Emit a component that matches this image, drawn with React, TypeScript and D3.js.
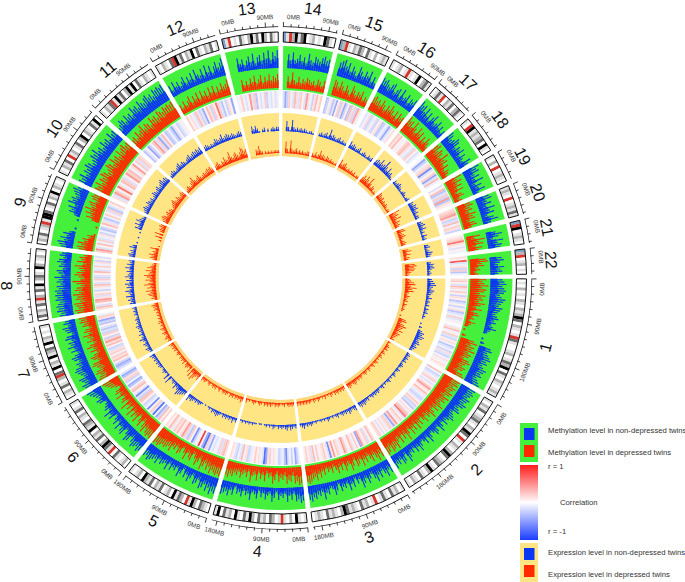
import React from 'react';
import * as d3 from 'd3';

const chromosomes = ['1','2','3','4','5','6','7','8','9','10','11','12','13','14','15','16','17','18','19','20','21','22'];
const lengthsMb = [249,243,198,191,181,171,159,146,141,136,135,134,115,107,103,90.4,81,78,59,63,48,51];

// 0-9 readings per chromosome, clockwise from 0MB, 0 = no bar
const methylNonDepressed = [
  [6,7,8,6,7,8,7,5,6,8,7,6,5,7,6,5,4,5,6,4,5,3,4,6,3,2,0,0,1,0,2,0,6,7,5,6,7,8,6,7,5,6,8,7,6,7,5,6,7,8],
  [8,7,8,7,6,8,7,6,8,7,5,6,7,4,5,6,7,5,4,6,3,5,7,3,5,6,4,3,5,7,3,6,4,3,5,7,4,6,3,5,4,6,8,3,6,7,4,6,5,7],
  [7,5,8,6,4,7,5,8,6,3,5,7,4,6,8,3,5,2,6,4,7,3,5,4,6,2,5,7,4,3,6,5,8,4,6,5,7,6,8,7],
  [7,8,6,7,3,6,4,7,3,5,4,6,2,5,7,3,4,6,3,5,2,6,4,3,7,4,5,3,6,4,5,2,6,4,7,5,6,7],
  [8,7,9,6,8,5,7,8,4,6,7,3,5,7,4,6,2,5,7,3,5,4,6,3,7,4,5,6,4,7,5,6,7,8,6,7],
  [7,8,6,7,8,6,4,7,8,5,3,7,6,4,7,3,6,4,2,6,4,7,3,5,4,3,2,5,6,4,5,6,7,8],
  [7,8,6,7,8,5,6,7,8,7,5,6,4,6,7,5,3,6,4,7,5,6,4,7,6,3,5,6,7,4,6,5],
  [7,6,8,7,8,7,6,8,7,8,7,8,6,7,5,7,6,8,5,6,7,4,6,5,7,6,4,6,5],
  [6,7,8,5,7,4,6,3,0,1,0,0,0,1,0,3,6,5,7,4,8,6,7,5,6,7,8,6],
  [7,6,8,5,7,6,8,7,5,6,8,7,9,6,7,5,8,6,7,5,8,6,7],
  [5,6,8,7,5,8,6,7,5,9,7,8,6,9,7,6,8,9,7,8,6,9,8,9,8,9],
  [6,3,7,4,6,3,5,7,3,6,4,7,3,8,5,4,7,3,8,4,7,3,6,8,5,7,9],
  [0,0,0,0,7,4,6,3,5,7,4,8,3,6,7,4,8,5,9,4,8,6,9],
  [0,0,7,4,8,4,5,7,4,6,3,8,5,4,7,6,5,7,8,6,7],
  [0,0,7,8,9,6,8,4,7,5,3,8,6,4,7,5,8,3,6,3],
  [8,7,8,6,5,7,8,4,6,7,3,8,4,5,7,3,6,5,7],
  [9,7,8,5,8,4,7,3,6,8,4,5,7,4,6,3,5],
  [8,7,5,6,8,7,4,6,5,7,3,6,4,3,7,5],
  [9,7,8,5,7,4,8,3,6,4,7,3],
  [7,8,5,7,4,8,5,7,3,6,8,4],
  [0,0,5,8,6,3,8,5,7,6],
  [0,0,6,7,5,4,7,5,6,4]
];

const methylDepressed = [
  [8,6,7,9,6,8,7,5,8,6,7,5,8,6,4,7,3,5,6,3,4,2,5,3,2,0,1,0,0,2,0,7,9,6,8,7,9,6,8,7,5,8,9,7,6,8,7,5,8,9],
  [9,8,9,7,9,8,7,9,8,6,9,7,8,6,7,9,6,8,5,7,9,6,7,5,8,6,4,7,5,8,4,7,5,8,4,6,9,5,7,4,8,5,6,9,7,8,9,6,8,9],
  [8,6,9,7,5,8,6,4,7,5,8,4,6,7,3,6,8,4,5,7,3,6,4,7,5,3,6,4,5,3,6,4,7,5,8,6,7,8,9,8],
  [8,9,7,8,4,7,6,8,4,6,5,7,3,6,8,4,5,3,7,4,6,3,7,4,5,8,3,6,4,5,7,4,6,5,7,6,8,7],
  [9,8,9,8,7,9,6,8,5,7,9,4,6,8,5,3,7,6,4,8,5,3,6,7,4,6,5,8,6,7,8,7,8,9,8,9],
  [9,8,9,8,6,9,7,4,8,6,3,8,5,7,4,8,3,6,4,8,3,6,5,3,7,4,6,5,2,4,6,7,8,9],
  [9,8,7,9,8,6,7,9,8,5,7,8,6,4,7,5,8,6,4,7,5,6,8,5,7,6,4,7,6,8,7,8],
  [8,9,7,8,9,6,8,7,9,6,8,7,5,7,9,5,6,8,7,5,6,8,4,7,5,6,4],
  [7,8,6,8,5,6,3,4,1,0,0,0,1,0,0,4,7,5,8,6,9,6,7,8,5,7,8,7],
  [8,7,9,6,8,7,9,8,6,7,9,8,6,9,7,8,6,9,7,8,9,7,8],
  [6,7,5,8,6,7,9,6,8,7,5,9,7,8,6,9,8,7,9,8,9,8,9],
  [5,3,6,3,5,7,3,6,4,7,3,7,4,6,3,7,4,7,3,6,4,7,5,6,8],
  [0,0,0,0,6,3,5,3,6,4,7,3,5,7,3,6,4,7,4,6,5,7],
  [0,0,6,3,8,4,3,6,3,5,4,6,5,4,5,3,6,5,3,6],
  [0,0,8,7,5,8,6,4,7,5,3,8,6,4,6,5,7,3,5,4],
  [7,8,6,7,5,8,6,4,7,5,8,6,4,7,3,7,5,6],
  [9,7,8,5,9,6,4,8,5,7,3,6,4,7,5,3],
  [8,9,6,8,7,5,9,6,7,4,6,3,5,4,3],
  [9,6,8,5,7,4,7,3,5,6,3,4],
  [7,8,6,7,5,8,6,7,4,6,7,4],
  [0,0,7,4,9,6,8,4,7,5],
  [0,0,8,9,6,7,4,5,3,4]
];

// -9 (r = -1, blue) to 9 (r = 1, red)
const correlation = [
  [2,3,1,-2,4,2,-1,3,1,-3,2,1,-4,-2,1,-3,-1,2,-4,-2,-1,3,-2,-1,1,0,-1,2,4,-1,1,3,-2,-3,1,2,-1,-4,-2,-1,-3,2,-2,-3,-1,2,-1,1,2,1],
  [4,-1,-3,-2,-1,2,3,-1,-2,1,3,5,2,1,4,2,-1,-2,-3,-2,1,3,2,-3,-2,-4,1,2,-1,3,4,6,-2,1,3,2,-1,5,3,-5,-2,3,2,-1,2,1,-2,1,3,2],
  [2,4,1,-2,3,1,2,5,-5,1,3,-1,2,4,1,-1,3,5,2,-1,2,3,1,5,2,-6,-2,1,3,2,1,-1,3,1,4,-2,2,1,3,1],
  [-1,-3,-5,-1,-3,-1,-2,-6,-4,-1,-2,-3,-1,1,2,-1,3,2,-5,-7,-2,-1,2,1,3,1,-1,-2,-3,2,1,4,-2,-1,-3,-2,1,2],
  [2,4,3,-2,3,-1,-1,-2,-1,-5,-2,3,-7,-5,-1,8,1,-1,-3,-6,-1,3,-4,-2,3,5,2,1,4,2,3,-1,2,4,1,2],
  [3,1,4,-3,-5,-1,-7,-2,3,1,-6,-1,-2,-3,1,3,4,-3,-2,-6,-2,1,4,3,-1,-4,-5,-1,-3,3,2,-4,-5,-2],
  [-2,-4,-5,-3,1,4,2,3,-1,3,2,-2,-3,1,4,2,5,3,-3,1,3,-3,-2,-4,-2,1,-4,-3,-5,2,3,-1],
  [2,4,-2,1,4,5,2,-2,3,1,-3,-1,2,4,-2,1,3,-3,-2,1,4,-2,-1,3,-1,2,-3,1,-2],
  [3,5,-2,1,4,-1,3,-2,-1,2,-3,-1,-4,-3,1,4,2,-2,-4,-1,3,1,-2,3,-4,-2,1,3],
  [2,-2,5,3,1,6,2,-1,4,3,-2,1,5,3,4,-1,2,5,-1,3,-2,3,2],
  [-4,-2,1,-5,-3,-1,3,5,-2,3,-5,-2,4,1,-4,-3,-1,-3,-5,-2,1,-3,-2,-1,1],
  [3,1,2,-1,-2,4,2,-3,-2,-5,1,4,2,-3,3,1,6,3,-2,-4,-1,-3,2,1,-5],
  [-1,1,3,-1,-2,1,5,-2,3,-4,1,-2,-1,3,-3,-1,-2,1,-2,-1],
  [-2,-5,-3,3,-1,-2,4,2,-2,3,1,-2,5,2,-1,-3,2,4,1,3],
  [-4,-3,-1,2,-4,-2,-5,1,3,-3,2,-5,-3,1,-4,4,-2,3,-3,5,2,-1],
  [-2,-1,2,-3,-2,1,-2,-3,1,2,-4,-3,-1,-2,-5,-2,-1,2],
  [3,2,4,1,-1,1,3,4,2,-1,-2,3,1,-2,-1],
  [-1,-5,-3,-1,2,3,-6,-2,1,3,-5,-2,4,-1],
  [-2,1,4,-4,-2,3,-3,5,-4,2,1],
  [2,3,4,5,2,-3,-2,4,-1,3,2,-3],
  [1,2,3,6,2,1,-2,1,-1],
  [2,1,7,-2,-1,2,-3,3,-4,-1]
];

const exprNonDepressed = [
  [3,4,5,6,4,3,5,4,3,2,4,2,3,2,3,1,3,2,3,1,2,1,0,0,1,0,2,0,3,5,4,6,5,3,4,5,3,4,3,2],
  [2,3,2,3,2,3,1,2,3,2,1,3,2,1,2,3,1,2,1,3,2,1,2,1,3,2,1,2,3,2,3,2,3,2,1,3,2,3,4,3,4,3],
  [4,3,2,3,4,2,3,2,3,2,1,3,2,1,2,1,2,3,1,2,1,2,1,1,2,1,2,3,2,3,2,4,3,2],
  [3,2,3,4,2,4,3,2,3,2,3,1,2,3,1,2,1,2,1,0,1,1,0,1,1,2,1,2,1,2,1,2,1],
  [3,2,4,2,3,2,3,2,3,1,2,3,4,3,2,3,1,2,1,0,1,0,1,2,3,2,3,2,3,4,3,5],
  [3,4,5,6,7,4,3,5,2,3,2,1,6,0,5,1,2,3,2,1,2,3,2,3,2,3,2,3,4],
  [2,3,4,2,3,4,2,3,5,3,2,4,2,3,2,3,4,2,3,2,3,2,1,3,2,3,2,3],
  [4,3,5,3,6,3,4,6,3,5,4,6,3,5,3,6,4,3,5,3,6,3,5,3,4],
  [4,5,3,4,2,5,3,0,1,0,0,1,0,0,1,0,5,3,6,3,6,4,3,2],
  [3,4,5,4,3,5,4,3,4,2,3,5,4,3,4,5,3,4,5,6,4,5,4],
  [2,3,4,3,2,3,4,5,3,4,3,2,3,4,5,3,4,5,4,5,4,5],
  [3,4,3,2,3,2,3,5,4,3,4,6,3,4,5,4,3,4,3,2,3,4,3],
  [0,0,0,0,5,3,5,3,1,0,2,3,0,2,0,2,3,2,3,3],
  [0,0,7,3,1,8,3,2,3,2,3,2,3,2,1,2,2,1],
  [0,2,3,2,3,4,2,7,3,4,3,2,3,4,2,3,2,2],
  [5,3,4,3,2,3,4,1,2,3,2,1,3,2,3],
  [4,5,4,7,4,5,9,5,3,6,3,4,2,1],
  [3,2,3,4,3,2,1,2,3,2,1,2,3],
  [4,3,5,4,5,3,4,2,3,3],
  [3,4,5,3,5,2,3,1,4,2,3],
  [0,3,4,2,3,5,4,3],
  [0,3,5,4,5,3,2,3,2]
];

const exprDepressed = [
  [3,4,6,7,4,8,5,6,3,2,4,3,2,3,1,3,2,1,2,1,0,0,1,0,5,6,3,5,7,5,4,6,3,5,4,3,2,3],
  [2,1,2,3,2,3,1,2,3,1,2,3,1,2,1,3,2,1,3,2,1,2,3,1,2,3,2,1,2,3,2,3,2,3,4,3,2,3,4,3],
  [2,3,2,3,2,3,2,3,1,2,3,1,2,1,3,1,2,1,2,3,1,2,3,1,2,3,2,3,2,3,2,3,2,3],
  [2,3,2,3,2,1,3,2,1,2,3,2,3,1,2,3,2,3,2,3,1,2,3,2,1,2,3,2,1,2,1,3],
  [3,4,2,3,2,3,1,3,2,3,1,2,3,2,3,2,1,3,2,1,3,2,3,2,1,3,2,1,2,3,2,3],
  [5,3,4,6,8,3,7,0,5,2,3,4,3,1,4,2,3,2,3,1,2,3,2,1,3,2,3,2,3,4],
  [3,2,4,3,2,3,4,2,3,4,2,3,2,4,3,2,3,2,3,2,3,2,4,3,4,5,3],
  [2,4,3,5,6,4,7,3,6,4,8,5,4,7,4,6,8,5,4,7,3,6,4,3,2],
  [3,5,4,6,3,4,2,6,0,1,0,0,0,2,0,5,0,6,0,3,4,3,5,4],
  [4,5,6,5,3,4,5,3,4,3,2,3,4,5,6,4,3,5,4,3,4,5,4],
  [2,3,4,3,2,4,5,7,4,3,4,5,3,2,3,4,3,4,5,4,5,3],
  [3,4,5,3,2,4,3,6,4,3,5,8,4,3,5,6,4,3,5,8,7,5,6],
  [0,0,0,0,4,3,6,3,2,0,2,1,2,1,2,1,2,2,2,2],
  [0,0,8,3,1,9,3,2,3,4,2,3,2,3,2,2,3,3],
  [3,2,4,2,3,6,3,4,3,2,4,3,2,3,2,2,1,2],
  [6,3,4,5,3,2,3,2,3,2,3,1,2,2],
  [4,6,4,7,5,3,8,4,2,4,3,1,2,1],
  [5,4,3,4,2,3,2,3,2,1,2,2],
  [8,5,6,4,7,3,5,3,4,3],
  [5,6,3,4,5,3,2,3,4,3],
  [0,4,6,3,5,2,4,3],
  [0,7,8,6,7,6,4,3,2]
];

// 0 white, 1-3 greys, 4 black, 5 red centromere, 6 blue stalk
const ideogramBands = [
  [0,1,0,2,0,1,0,2,1,0,2,1,2,4,3,0,2,1,0,1,5,3,1,0,0,1,2,0,1,3,2,4,0,3,1,0,2,1,0,1,2,1],
  [1,0,2,1,3,0,1,2,3,1,0,2,1,4,3,0,5,1,0,2,1,0,2,4,3,0,1,2,3,0,1,4,2,0,1,3,0,1,2,0,1],
  [1,0,2,1,3,0,1,3,1,0,5,1,0,2,1,3,0,1,2,1,3,4,2,0,1,2,1,3,0,1,2,1,0],
  [1,0,1,4,0,2,0,1,5,1,0,2,3,0,2,1,3,0,2,4,1,3,0,1,4,0,2,1,3,0,4,1],
  [0,1,2,3,0,2,4,1,5,0,2,3,1,4,0,2,1,0,3,1,2,0,3,1,2,4,0,2,1,0,1],
  [0,2,1,0,1,3,0,5,1,3,4,2,0,3,1,2,0,4,1,2,3,0,1,2,0,3,1,0,1],
  [0,1,2,0,3,1,0,2,5,3,0,4,1,2,0,4,1,2,3,0,4,1,2,0,1,0,1],
  [0,3,1,2,0,3,1,5,2,0,3,1,4,0,2,3,1,0,4,2,0,1,2,0,1],
  [0,2,1,3,0,1,2,5,1,4,4,3,0,1,3,0,2,1,4,0,2,1,0,1],
  [1,0,2,1,3,0,5,1,2,0,1,3,0,2,4,0,2,1,0,3,1,4,0],
  [1,0,2,1,3,5,1,4,1,3,0,2,4,1,4,0,3,1,0,2,1,0,1],
  [1,0,2,1,0,3,5,4,1,3,0,2,1,4,0,3,1,0,2,1,3,0,1],
  [6,1,5,0,1,0,3,1,0,2,4,1,3,0,4,2,0,3,1,0],
  [6,1,5,2,4,1,3,4,0,1,2,0,1,0,4,3,1,0],
  [6,2,5,1,0,2,1,3,2,0,3,1,0,2,0,1,2,1],
  [1,0,1,2,0,1,5,1,0,1,4,0,2,3,1],
  [0,1,3,1,5,0,2,1,3,0,2,3,1,0],
  [1,0,5,4,1,2,1,2,3,0,4,1,0],
  [1,0,2,0,5,0,1,2,1,0],
  [1,2,1,0,5,0,1,2,1,3,1],
  [6,5,4,0,1,2,1,0],
  [6,2,5,0,1,2,0,1,0]
];

const ideogramColors = ['#ffffff', '#e2e2e2', '#b4b4b4', '#6e6e6e', '#000000', '#d8342c', '#7f9fc6'];
const legendMethyl = ['Methylation level in non-depressed twins', 'Methylation level in depressed twins'];
const legendExpr = ['Expression level in non-depressed twins', 'Expression level in depressed twins'];

const BLUE = '#0b36f2';
const RED = '#ff2a00';
const GREEN = '#45f03c';
const YELLOW = '#ffe584';
const FONT = '"Liberation Sans", Arial, sans-serif';

const cx = 280.5;
const cy = 278;
const gapDeg = 1.2;
const degPerMb = 0.1159;
const rad = (d: number) => (d * Math.PI) / 180;

// where each chromosome sits, clockwise from the east point
let cursor = 90.2;
const spans = lengthsMb.map((len) => {
  const start = cursor;
  cursor += len * degPerMb + gapDeg;
  return { start, end: start + len * degPerMb };
});

const arc = d3.arc();
const wedge = (r0: number, r1: number, a0: number, a1: number) =>
  arc({ innerRadius: r0, outerRadius: r1, startAngle: rad(a0), endAngle: rad(a1) }) as string;

const methylHeight = d3.scaleLinear().domain([0, 9]).range([0, 18]);
const exprHeight = d3.scaleLinear().domain([0, 9]).range([0, 13]);
const corrColor = d3.scaleLinear<string>().domain([-9, -4, 0, 4, 9]).range(['#0b36f2', '#b9c4fb', '#ffffff', '#fcbcb6', '#f51414']);

// each bin: a solid foot across its width and a thin spike to the full value
const Bars = ({ values, base, height, color, foot }: any) => (
  <g fill={color}>
    {values.map((vals: number[], c: number) => {
      const band = d3.scaleBand<number>().domain(d3.range(vals.length)).range([spans[c].start, spans[c].end]);
      return vals.map((v, i) => {
        if (v === 0) return null;
        const a = band(i)!;
        const w = band.bandwidth();
        return (
          <g key={`${c}-${i}`}>
            <path d={wedge(base, base + height(v) * foot, a, a + w)} />
            <path d={wedge(base, base + height(v), a + w * 0.25, a + w * 0.75)} />
          </g>
        );
      });
    })}
  </g>
);

const Stripes = ({ values, r0, r1, color }: any) => (
  <g>
    {values.map((vals: any[], c: number) => {
      const band = d3.scaleBand<number>().domain(d3.range(vals.length)).range([spans[c].start, spans[c].end]);
      return vals.map((v, i) => (
        <path key={`${c}-${i}`} d={wedge(r0, r1, band(i)!, band(i)! + band.bandwidth() + 0.02)} fill={color(v)} />
      ));
    })}
  </g>
);

// labels run along the ring, feet outward in the lower half so they stay readable
const isLower = (deg: number) => deg > 90 && deg < 270;
const ringText = (deg: number, r: number) => {
  const x = r * Math.sin(rad(deg));
  const y = -r * Math.cos(rad(deg));
  return `translate(${x},${y}) rotate(${isLower(deg) ? deg - 180 : deg})`;
};

export default function App() {
  return (
    <svg width={685} height={582} style={{ position: 'absolute', left: 0, top: 0 }} fontFamily={FONT}>
      <defs>
        <linearGradient id="corr" x1="0" y1="0" x2="0" y2="1">
          <stop offset="0" stopColor="#ff1c1c" />
          <stop offset="0.5" stopColor="#ffffff" />
          <stop offset="1" stopColor="#1a3cff" />
        </linearGradient>
      </defs>
      <g transform={`translate(${cx},${cy})`}>
        {spans.map((s, i) => (
          <g key={i}>
            <path d={wedge(188, 232, s.start, s.end)} fill={GREEN} />
            <path d={wedge(122, 165, s.start, s.end)} fill={YELLOW} />
            <path d={wedge(122, 125, s.start, s.end)} fill="#fbd77c" />
          </g>
        ))}
        <Bars values={methylNonDepressed} base={210} height={methylHeight} color={BLUE} foot={0.55} />
        <Bars values={methylDepressed} base={190} height={methylHeight} color={RED} foot={0.55} />
        <Stripes values={correlation} r0={170} r1={187} color={corrColor} />
        <Bars values={exprNonDepressed} base={147} height={exprHeight} color={BLUE} foot={0.4} />
        <Bars values={exprDepressed} base={125} height={exprHeight} color={RED} foot={0.4} />
        <Stripes values={ideogramBands} r0={236} r1={246} color={(v: number) => ideogramColors[v]} />
        {spans.map((s, i) => {
          const ticks = d3.range(0, lengthsMb[i], 15);
          const mid = (s.start + s.end) / 2;
          return (
            <g key={i}>
              <path d={wedge(236, 246, s.start, s.end)} fill="none" stroke="#111" strokeWidth={1} />
              <path d={wedge(251, 251.7, s.start, s.end)} fill="#111" />
              {ticks.map((t) => {
                const deg = s.start + t * degPerMb;
                const major = t % 90 === 0;
                // labels near a chromosome's end are pulled back so they clear the next 0MB
                const nudge = t === 0 ? 2.2 : lengthsMb[i] - t < 5 ? -0.8 : 0;
                return (
                  <g key={t}>
                    <line
                      x1={251 * Math.sin(rad(deg))}
                      y1={-251 * Math.cos(rad(deg))}
                      x2={(major ? 256 : 254) * Math.sin(rad(deg))}
                      y2={-(major ? 256 : 254) * Math.cos(rad(deg))}
                      stroke="#111"
                      strokeWidth={0.8}
                    />
                    {major && (
                      <text
                        transform={ringText(deg + nudge, 261.5)}
                        textAnchor="middle"
                        dominantBaseline="central"
                        fontSize={6.4}
                        fill="#333"
                      >
                        {t}MB
                      </text>
                    )}
                  </g>
                );
              })}
              <text
                transform={ringText(mid, isLower(mid) ? 274 : 271)}
                textAnchor="middle"
                dominantBaseline="central"
                fontSize={16}
                fill="#111"
              >
                {chromosomes[i]}
              </text>
            </g>
          );
        })}
      </g>

      <g>
        <rect x={520} y={423} width={18} height={39} fill={GREEN} />
        <rect x={524} y={428} width={10.5} height={12} fill={BLUE} />
        <rect x={524} y={445} width={10.5} height={12} fill={RED} />
        <rect x={520} y={465} width={18} height={75} fill="url(#corr)" />
        <rect x={520} y={543} width={18} height={39} fill={YELLOW} />
        <rect x={524} y={548} width={10.5} height={12} fill={BLUE} />
        <rect x={524} y={565} width={10.5} height={12} fill={RED} />
        <g fontSize={7.7} fill="#333" dominantBaseline="central">
          {legendMethyl.map((t, i) => <text key={t} x={548} y={430 + i * 22}>{t}</text>)}
          <text x={548} y={466}>r = 1</text>
          <text x={560} y={502}>Correlation</text>
          <text x={548} y={531}>r = -1</text>
          {legendExpr.map((t, i) => <text key={t} x={548} y={552 + i * 22}>{t}</text>)}
        </g>
      </g>
    </svg>
  );
}
